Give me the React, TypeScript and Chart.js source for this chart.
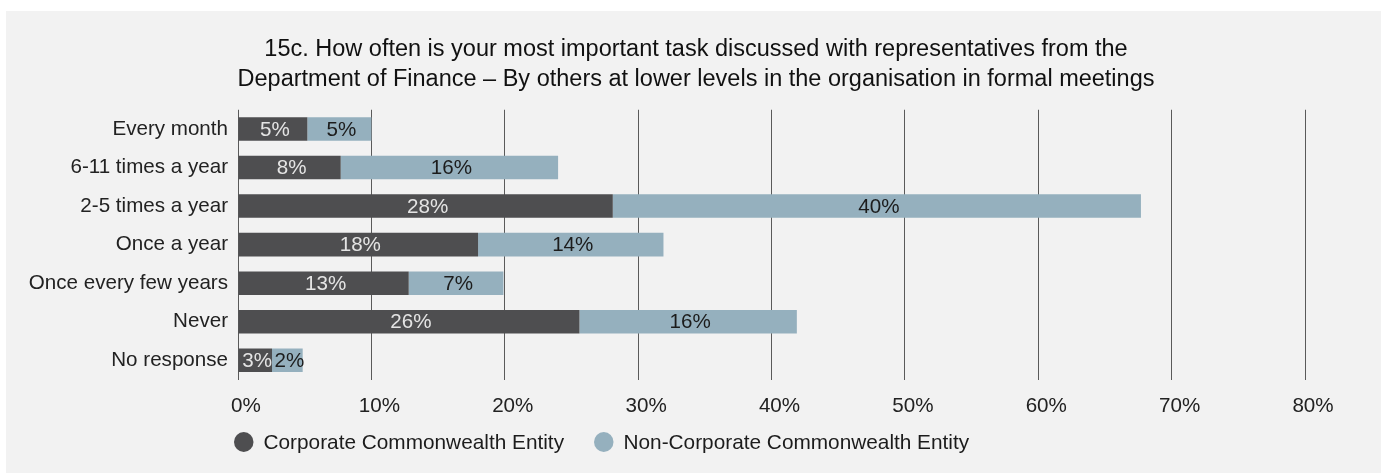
import React, { useEffect, useRef } from "react";
import { Chart, registerables } from "chart.js";

Chart.register(...registerables);

const categories = [
  "Every month",
  "6-11 times a year",
  "2-5 times a year",
  "Once a year",
  "Once every few years",
  "Never",
  "No response",
];
const corporate = [5.2, 7.7, 28.1, 18.0, 12.8, 25.6, 2.55];
const nonCorporate = [4.8, 16.3, 39.6, 13.9, 7.1, 16.3, 2.3];
const corporateLabels = ["5%", "8%", "28%", "18%", "13%", "26%", "3%"];
const nonCorporateLabels = ["5%", "16%", "40%", "14%", "7%", "16%", "2%"];
const seriesNames = ["Corporate Commonwealth Entity", "Non-Corporate Commonwealth Entity"];
const titleLines = [
  "15c. How often is your most important task discussed with representatives from the",
  "Department of Finance \u2013 By others at lower levels in the organisation in formal meetings",
];

const FONT = '"Liberation Sans", Arial, Helvetica, sans-serif';
const DARK = "#4e4e50";
const LIGHT = "#95b0be";
const TEXT_SIZE = 20.6;

const labelPlugin = {
  id: "segLabels",
  afterDatasetsDraw(chart: any) {
    const ctx = chart.ctx;
    const labelSets = [corporateLabels, nonCorporateLabels];
    const colors = ["#e4e4e4", "#1c1c1c"];
    ctx.save();
    ctx.font = `${TEXT_SIZE}px ${FONT}`;
    ctx.textAlign = "center";
    ctx.textBaseline = "middle";
    chart.data.datasets.forEach((_ds: any, di: number) => {
      const meta = chart.getDatasetMeta(di);
      meta.data.forEach((el: any, i: number) => {
        const p = el.getProps(["x", "y", "base"], true);
        ctx.fillStyle = colors[di];
        ctx.fillText(labelSets[di][i], (p.x + p.base) / 2 + 2, p.y + 1);
      });
    });
    ctx.restore();
  },
};

const legendPlugin = {
  id: "customLegend",
  afterDraw(chart: any) {
    const ctx = chart.ctx;
    ctx.save();
    ctx.font = `20.8px ${FONT}`;
    ctx.textBaseline = "middle";
    ctx.textAlign = "left";
    let x = chart.chartArea.left - 4;
    const y = 431;
    chart.data.datasets.forEach((ds: any) => {
      ctx.fillStyle = ds.backgroundColor;
      ctx.beginPath();
      ctx.ellipse(x + 9.75, y, 9.75, 10, 0, 0, Math.PI * 2);
      ctx.fill();
      const tx = x + 29.5;
      ctx.fillStyle = "#1c1c1c";
      ctx.fillText(ds.label, tx, y + 1);
      x = tx + ctx.measureText(ds.label).width + 30;
    });
    ctx.restore();
  },
};

export default function App() {
  const ref = useRef<HTMLCanvasElement | null>(null);
  useEffect(() => {
    document.body.style.margin = "0";
    const chart = new Chart(ref.current as HTMLCanvasElement, {
      type: "bar",
      data: {
        labels: categories,
        datasets: [
          {
            label: seriesNames[0],
            data: corporate,
            backgroundColor: DARK,
            barPercentage: 0.61,
            categoryPercentage: 1,
          },
          {
            label: seriesNames[1],
            data: nonCorporate,
            backgroundColor: LIGHT,
            barPercentage: 0.61,
            categoryPercentage: 1,
          },
        ],
      },
      options: {
        indexAxis: "y",
        responsive: false,
        animation: false,
        layout: { padding: { left: 5, right: 0, top: 0, bottom: 56 } },
        plugins: {
          legend: { display: false },
          tooltip: { enabled: false },
          title: {
            display: true,
            text: titleLines,
            color: "#111111",
            font: { family: FONT, size: 23.5, weight: "normal", lineHeight: 29.5 / 23.5 },
            padding: { top: 24, bottom: 15.75 },
          },
        },
        scales: {
          x: {
            stacked: true,
            min: 0,
            max: 80,
            ticks: {
              stepSize: 10,
              callback: (v: any) => v + "%",
              color: "#222222",
              font: { family: FONT, size: TEXT_SIZE },
              padding: 14,
              labelOffset: 8,
            },
            grid: { color: "#5a5a5a", lineWidth: 1, drawTicks: false },
            border: { display: false },
            afterFit: (s: any) => {
              s.height = 37.5;
            },
          },
          y: {
            stacked: true,
            ticks: {
              color: "#222222",
              font: { family: FONT, size: TEXT_SIZE },
              padding: 2,
            },
            grid: { display: false },
            border: { display: false },
            afterFit: (s: any) => {
              s.width = 227;
            },
          },
          yRight: {
            type: "category",
            position: "right",
            ticks: { display: false },
            grid: { display: false },
            border: { display: false },
            afterFit: (s: any) => {
              s.width = 76;
            },
          },
        },
      },
      plugins: [labelPlugin, legendPlugin],
    } as any);
    return () => chart.destroy();
  }, []);
  return (
    <div
      style={{
        position: "absolute",
        left: 6,
        top: 11,
        width: 1375,
        height: 462,
        background: "#f2f2f2",
      }}
    >
      <canvas ref={ref} width={1375} height={462} style={{ display: "block" }} />
    </div>
  );
}
